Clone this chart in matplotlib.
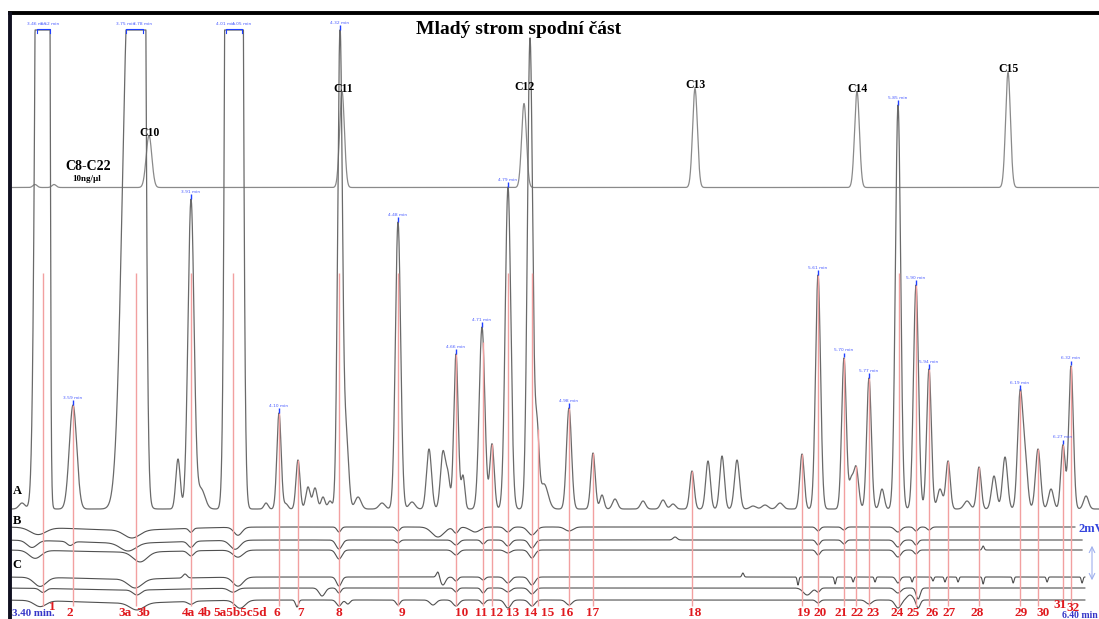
import numpy as np
import matplotlib.pyplot as plt

plt.rcParams['font.family'] = ['Liberation Serif', 'DejaVu Serif']

TITLE = 'Mladý strom spodní část'

# C8-C22 standard: retention time [min], height, peak sd [min]
REF_RT = [3.4566, 3.5104, 3.7792, 4.3255, 4.8406, 5.3245, 5.7830, 6.2104]
REF_H = [3, 3, 52, 96, 84, 99, 96, 115]
REF_SD = [0.006, 0.006, 0.008, 0.0068, 0.0068, 0.0068, 0.0068, 0.0068]
REF_NAMES = ['', '', 'C10', 'C11', 'C12', 'C13', 'C14', 'C15']

# sample trace A (detector saturates at SATURATION)
A_RT = [3.4198, 3.4708, 3.4906, 3.5642, 3.7226, 3.7538, 3.8613, 3.8981, 3.9264,
        4.0085, 4.0311, 4.1104, 4.1472, 4.1670, 4.2009, 4.2292, 4.2491, 4.2717,
        4.2915, 4.3198, 4.3368, 4.3708, 4.4387, 4.4840, 4.5236, 4.5717, 4.6113,
        4.6255, 4.6481, 4.6679, 4.7217, 4.7500, 4.7953, 4.8576, 4.8774, 4.8972,
        4.9679, 5.0359, 5.0613, 5.0981, 5.1774, 5.2340, 5.2623, 5.3160, 5.3613,
        5.4010, 5.4434, 5.4887, 5.5227, 5.5651, 5.6274, 5.6727, 5.7462, 5.7660,
        5.7802, 5.8170, 5.8538, 5.8991, 5.9500, 5.9868, 6.0179, 6.0406, 6.0944,
        6.1283, 6.1708, 6.2019, 6.2444, 6.2585, 6.2953, 6.3321, 6.3660, 6.3887,
        6.4311]
A_H = [6, 1313, 3000, 104, 531, 2500, 50, 309, 20,
       2500, 2500, 6, 96, 5, 49, 22, 21, 12,
       8, 478, 75, 12, 6, 287, 7, 60, 57,
       30, 155, 33, 182, 65, 322, 471, 75, 25,
       101, 56, 14, 10, 8, 9, 5, 38, 48,
       53, 49, 3, 4, 6, 55, 234, 151, 25,
       42, 131, 20, 404, 224, 140, 20, 48, 8,
       42, 33, 52, 112, 50, 60, 20, 64, 143,
       13]
A_SD = [0.0085, 0.0100, 0.0045, 0.0105, 0.0188, 0.0091, 0.0062, 0.0085, 0.0113,
        0.0085, 0.0085, 0.0057, 0.0060, 0.0057, 0.0057, 0.0062, 0.0062, 0.0057,
        0.0057, 0.0065, 0.0071, 0.0085, 0.0085, 0.0074, 0.0085, 0.0071, 0.0071,
        0.0057, 0.0062, 0.0051, 0.0079, 0.0062, 0.0079, 0.0074, 0.0057, 0.0113,
        0.0071, 0.0062, 0.0057, 0.0071, 0.0071, 0.0071, 0.0071, 0.0062, 0.0065,
        0.0065, 0.0071, 0.0085, 0.0085, 0.0085, 0.0062, 0.0071, 0.0065, 0.0057,
        0.0071, 0.0065, 0.0062, 0.0074, 0.0071, 0.0065, 0.0071, 0.0062, 0.0085,
        0.0062, 0.0071, 0.0071, 0.0071, 0.0071, 0.0071, 0.0071, 0.0062, 0.0065,
        0.0071]
SATURATION = 479

# traces B and C: (retention time, dip depth, sd); negative depth = spike up
B1_DIPS = [(3.72, 3, 0.14), (3.465, 7, 0.022), (3.731, 8, 0.022), (3.898, 4, 0.0057),
           (4.031, 8, 0.0113), (4.317, 5, 0.0057), (4.484, 4, 0.0057), (4.597, 10, 0.017),
           (4.648, 6, 0.0071), (4.702, 5, 0.0142), (4.795, 5, 0.0085), (4.863, 8, 0.0113),
           (4.968, 4, 0.0113), (5.673, 4, 0.0057), (5.746, 3, 0.0057), (5.899, 5, 0.0085),
           (5.950, 4, 0.0057), (5.987, 3, 0.0057)]
B2_DIPS = [(3.72, 3, 0.14), (3.448, 7, 0.0142), (3.556, 4, 0.0085), (3.720, 8, 0.022),
           (3.898, 6, 0.0085), (4.023, 9, 0.0142), (4.317, 9, 0.0085), (4.484, 3, 0.0057),
           (4.648, 5, 0.0085), (4.725, 4, 0.0057), (4.795, 6, 0.0085), (4.863, 8, 0.0085),
           (5.268, -3, 0.0057), (5.673, 5, 0.0057), (5.746, 4, 0.0057), (5.899, 7, 0.0085),
           (5.950, 5, 0.0057)]
B3_DIPS = [(3.72, 2, 0.14), (3.457, 8, 0.017), (3.754, 10, 0.0198), (3.898, 5, 0.0085),
           (4.031, 7, 0.0142), (4.317, 9, 0.0085), (4.648, 5, 0.0085), (4.795, 3, 0.0085),
           (4.863, 8, 0.0085), (5.673, 5, 0.0057), (5.899, 7, 0.0085), (5.950, 4, 0.0057),
           (6.140, -4, 0.0028)]
C1_DIPS = [(3.72, 2, 0.14), (3.471, 9, 0.017), (3.740, 9, 0.0198), (3.881, -4, 0.0057),
           (4.031, 9, 0.0142), (4.317, 9, 0.0071), (4.597, -6, 0.0042), (4.611, 8, 0.0071),
           (4.648, 4, 0.0057), (4.725, 3, 0.0057), (4.795, 6, 0.0085), (4.863, 8, 0.0085),
           (5.460, -4, 0.0028), (5.616, 8, 0.0023), (5.721, 7, 0.0023), (5.772, 5, 0.0023),
           (5.834, 5, 0.0023), (5.899, 6, 0.0057), (5.939, 5, 0.0023), (5.998, 4, 0.0023),
           (6.032, 5, 0.0023), (6.069, 5, 0.0023), (6.140, 7, 0.0023), (6.225, 6, 0.0023),
           (6.321, 5, 0.0023), (6.420, 6, 0.0023)]
C2_DIPS = [(3.72, 2, 0.14), (3.479, 4, 0.0085), (3.745, 5, 0.0113), (4.017, 4, 0.0113),
           (4.269, 8, 0.0085), (4.317, 5, 0.0057), (4.648, 4, 0.0057), (4.725, 5, 0.0057),
           (4.795, 4, 0.0085), (4.863, 6, 0.0085), (5.642, 7, 0.0113), (5.673, 4, 0.0057),
           (5.899, 5, 0.0085), (5.956, 11, 0.0057)]
C3_DIPS = [(3.72, 3, 0.14), (3.471, 6, 0.017), (3.745, 7, 0.0198), (3.898, 3, 0.0085),
           (4.037, 8, 0.0142), (4.198, 7, 0.0042), (4.317, 6, 0.0071), (4.342, 4, 0.0057),
           (4.484, 5, 0.0057), (4.583, 5, 0.0085), (4.648, 6, 0.0085), (4.725, 4, 0.0057),
           (4.795, 8, 0.0085), (4.863, 6, 0.0085), (4.968, 5, 0.0085), (5.673, 3, 0.0057),
           (5.817, 4, 0.0085), (5.899, 8, 0.0085), (5.933, -5, 0.0085), (5.956, 8, 0.0057)]

# identified peaks: marker lines and numbered labels
MARK_RT = [3.479, 3.564, 3.743, 3.898, 4.017, 4.147, 4.201, 4.317, 4.484, 4.648,
           4.725, 4.750, 4.795, 4.863, 4.880, 4.968, 5.036, 5.316, 5.627, 5.673,
           5.746, 5.780, 5.817, 5.902, 5.950, 5.987, 6.041, 6.128, 6.244, 6.295,
           6.366, 6.389]
LABEL_TEXT = ['1', '2', '3a', '3b', '4a', '4b', '5a5b5c5d', '6', '7', '8', '9', '10',
              '11', '12', '13', '14', '15', '16', '17', '18', '19', '20', '21', '22',
              '23', '24', '25', '26', '27', '28', '29', '30', '31', '32']
LABEL_RT = [3.505, 3.556, 3.711, 3.762, 3.890, 3.938, 4.037, 4.142, 4.207, 4.317,
            4.495, 4.665, 4.719, 4.764, 4.809, 4.860, 4.906, 4.962, 5.036, 5.325,
            5.633, 5.678, 5.738, 5.783, 5.828, 5.896, 5.941, 5.995, 6.043, 6.123,
            6.247, 6.309, 6.358, 6.394]

# retention time readouts
NOTE_RT = [3.5642, 3.8981, 4.1472, 4.3198, 4.4840, 4.6481, 4.7217, 4.7953, 4.9679,
           5.6727, 5.7462, 5.8170, 5.8991, 5.9500, 5.9868, 6.2444, 6.3660, 6.3887]
NOTE_TEXT = ['3.59 min', '3.91 min', '4.10 min', '4.32 min', '4.48 min', '4.66 min',
             '4.71 min', '4.79 min', '4.98 min', '5.61 min', '5.70 min', '5.77 min',
             '5.85 min', '5.90 min', '5.94 min', '6.19 min', '6.27 min', '6.32 min']
BRACKET_RT = [(3.4623, 3.4991), (3.7142, 3.7623), (3.9972, 4.0425)]
BRACKET_TEXT = [('3.46 min', '3.52 min'), ('3.75 min', '3.78 min'), ('4.01 min', '4.05 min')]


def peak_sum(t, rt, h, sd):
    rt = np.asarray(rt, float)[:, None]
    h = np.asarray(h, float)[:, None]
    sd = np.asarray(sd, float)[:, None]
    return (h * np.exp(-0.5 * ((t[None, :] - rt) / sd) ** 2)).sum(axis=0)


x0, x1 = 3.3575, 6.4679
t = np.linspace(3.3915, x1, 7000)

ref_base, a_base = 431.5, 110
ref = ref_base + peak_sum(t, REF_RT, REF_H, REF_SD)
sig_a = np.minimum(peak_sum(t, A_RT, A_H, A_SD), SATURATION)
trace_a = a_base + sig_a

fig = plt.figure(figsize=(10.99, 6.19), dpi=100)
ax = fig.add_axes([0, 0, 1, 1])
ax.set_xlim(x0, x1)
ax.set_ylim(0, 619)
ax.axis('off')

ax.plot(t, ref, color='#8a8a8a', lw=0.9, zorder=2)
ax.plot(t, trace_a, color='#6a6a6a', lw=0.9, zorder=2)

# B and C traces
small = [(B1_DIPS, 92, 6.400), (B2_DIPS, 79, 6.420), (B3_DIPS, 69, 6.420),
         (C1_DIPS, 42, 6.428), (C2_DIPS, 31, 6.428), (C3_DIPS, 19, 6.428)]
for dips, base, t_end in small:
    tt = t[t <= t_end]
    d = np.array(dips, float)
    y = base - peak_sum(tt, d[:, 0], d[:, 1], d[:, 2])
    ax.plot(tt, y, color='#505050', lw=0.8, zorder=2)

# red marker lines
for rt in MARK_RT:
    top = min(a_base + np.interp(rt, t, sig_a), 346)
    ax.vlines(rt, 13, top, color='#f2a0a0', lw=1.0, zorder=3)

raised = {'1': 6, '31': 8, '32': 5}
for txt, rt in zip(LABEL_TEXT, LABEL_RT):
    ax.text(rt, 6 + raised.get(txt, 0), txt, color='#e0191e', fontsize=9.5,
            fontweight='bold', ha='center', va='center', zorder=5)

# retention time notes
blue = '#4a5cff'
for rt, txt in zip(NOTE_RT, NOTE_TEXT):
    y = a_base + np.interp(rt, t, sig_a)
    ax.vlines(rt, y + 0.5, y + 5, color='#2040ff', lw=1.0, zorder=4)
    ax.text(rt, y + 5.5, txt, color=blue, fontsize=3.2, family='DejaVu Sans',
            ha='center', va='bottom', zorder=4)
for (r1, r2), (s1, s2) in zip(BRACKET_RT, BRACKET_TEXT):
    yb = a_base + SATURATION + 1
    ax.plot([r1, r1, r2, r2], [yb - 4, yb, yb, yb - 4], color='#2040ff', lw=0.8, zorder=4)
    ax.text(r1, yb + 3, s1, color=blue, fontsize=3.2, family='DejaVu Sans',
            ha='center', va='bottom', zorder=4)
    ax.text(r2, yb + 3, s2, color=blue, fontsize=3.2, family='DejaVu Sans',
            ha='center', va='bottom', zorder=4)

# standard labels; C12 is written on the same line as C11/C13/C14
name_y = {'C12': 526}
for rt, h, name in zip(REF_RT, REF_H, REF_NAMES):
    if name:
        ax.text(rt + 0.002, name_y.get(name, ref_base + h - 3), name, fontsize=8.5,
                fontweight='bold', ha='center', va='bottom', zorder=4)
ax.text(3.6066, 453, 'C8-C22', fontsize=10, fontweight='bold', ha='center', va='center')
ax.text(3.6038, 440, '10ng/µl', fontsize=6.5, fontweight='bold', ha='center', va='center')

ax.text(4.8264, 590, TITLE, fontsize=14, fontweight='bold', ha='center', va='center')

for lab, y in [('A', 128), ('B', 98), ('C', 54)]:
    ax.text(3.4057, y, lab, fontsize=9, fontweight='bold', ha='center', va='center')

ax.text(3.392, 5, '3.40 min.', color='#3535c8', fontsize=7.8, fontweight='bold',
        ha='left', va='center')
ax.text(6.364, 4, '6.40 min', color='#3535c8', fontsize=7, fontweight='bold',
        ha='left', va='center')
ax.text(6.4085, 90, '2mV', color='#3344dd', fontsize=9, fontweight='bold',
        ha='left', va='center')
ax.annotate('', xy=(6.4481, 36), xytext=(6.4481, 76),
            arrowprops=dict(arrowstyle='<->', color='#9fb0ee', lw=0.8))

# frame
ax.plot([3.3802, x1], [606, 606], color='black', lw=2.8, solid_capstyle='butt', zorder=6)
ax.plot([3.3858, 3.3858], [0, 607.5], color='#101020', lw=2.8, solid_capstyle='butt', zorder=6)

fig.savefig('out.png', dpi=100)
